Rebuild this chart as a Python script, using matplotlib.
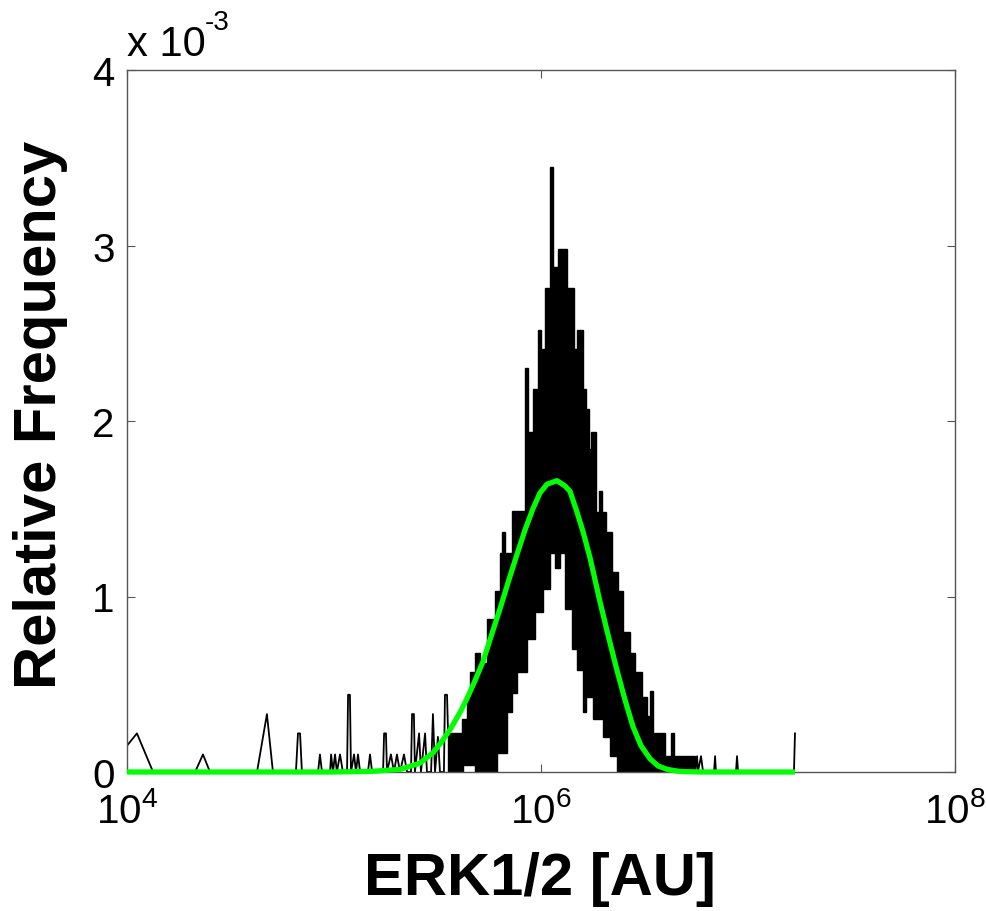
import numpy as np
import matplotlib
matplotlib.use('Agg')
import matplotlib.pyplot as plt
from matplotlib.ticker import FixedLocator, NullLocator

plt.rcParams['font.family'] = ['Liberation Sans', 'DejaVu Sans']
plt.rcParams['mathtext.fontset'] = 'custom'
plt.rcParams['mathtext.rm'] = 'Liberation Sans'

# relative frequency values are in units of 1e-3, x values as log10(ERK1/2)

# sparse spikes of the histogram, low-intensity side
left_x = [4.000, 4.048, 4.126, 4.329, 4.367, 4.401, 4.628, 4.676, 4.705, 4.816,
          4.826, 4.836, 4.845, 4.923, 4.932, 4.942, 4.981, 4.986, 4.995, 5.005,
          5.014, 5.029, 5.043, 5.063, 5.068, 5.077, 5.082, 5.097, 5.106, 5.116,
          5.126, 5.164, 5.174, 5.184, 5.237, 5.242, 5.251, 5.256, 5.275, 5.290,
          5.304, 5.319, 5.338, 5.353, 5.372, 5.377, 5.386, 5.391, 5.411, 5.420,
          5.440, 5.449, 5.469, 5.478, 5.488, 5.502, 5.512, 5.531, 5.536, 5.546,
          5.551]
left_y = [0.15, 0.22, 0.0, 0.0, 0.10, 0.0, 0.0, 0.33, 0.0, 0.0,
          0.22, 0.22, 0.0, 0.0, 0.10, 0.0, 0.0, 0.10, 0.0, 0.10,
          0.0, 0.10, 0.0, 0.0, 0.44, 0.44, 0.0, 0.10, 0.0, 0.10,
          0.0, 0.0, 0.10, 0.0, 0.0, 0.22, 0.22, 0.0, 0.10, 0.0,
          0.10, 0.0, 0.10, 0.0, 0.0, 0.33, 0.33, 0.0, 0.22, 0.0,
          0.22, 0.0, 0.0, 0.33, 0.0, 0.20, 0.0, 0.0, 0.44, 0.44,
          0.22]

# dense part of the histogram: upper and lower envelope (step edges + levels)
upper_edges = [5.551, 5.618, 5.643, 5.657, 5.681, 5.705, 5.739, 5.778, 5.802, 5.812,
               5.826, 5.860, 5.923, 5.937, 5.961, 5.986, 6.000, 6.019, 6.043, 6.058,
               6.082, 6.126, 6.159, 6.174, 6.203, 6.217, 6.232, 6.242, 6.266, 6.280,
               6.295, 6.314, 6.343, 6.372, 6.396, 6.430, 6.454, 6.488, 6.512, 6.527,
               6.541, 6.599, 6.628, 6.643, 6.744]
upper_vals = [0.22, 0.30, 0.43, 0.57, 0.68, 0.62, 0.87, 1.03, 1.25, 1.37,
              1.25, 1.49, 2.30, 1.94, 2.18, 2.52, 2.41, 2.76, 3.45, 2.88,
              2.98, 2.76, 2.41, 2.52, 2.18, 2.07, 1.84, 1.94, 1.48, 1.60,
              1.48, 1.37, 1.14, 1.03, 0.80, 0.68, 0.57, 0.43, 0.32, 0.46,
              0.22, 0.09, 0.22, 0.09]
lower_edges = [5.551, 5.623, 5.681, 5.787, 5.836, 5.860, 5.884, 5.932, 5.971, 6.010,
               6.043, 6.068, 6.092, 6.116, 6.150, 6.174, 6.203, 6.217, 6.251, 6.300,
               6.333, 6.367, 6.744]
lower_vals = [0.0, 0.04, 0.0, 0.11, 0.34, 0.45, 0.57, 0.76, 0.91, 1.04,
              1.25, 1.16, 1.25, 0.93, 0.70, 0.58, 0.34, 0.43, 0.30, 0.20,
              0.09, 0.0]

# sparse spikes, high-intensity side
right_x = [6.744, 6.754, 6.758, 6.773, 6.783, 6.836, 6.841, 6.845, 6.942, 6.947,
           6.952, 7.222, 7.227]
right_y = [0.0, 0.09, 0.0, 0.09, 0.0, 0.0, 0.09, 0.0, 0.0, 0.09,
           0.0, 0.0, 0.22]

# fitted curve (green)
fit_x = [4.000, 4.981, 5.174, 5.319, 5.415, 5.478, 5.512, 5.560, 5.609, 5.643,
         5.681, 5.720, 5.758, 5.802, 5.841, 5.884, 5.923, 5.961, 5.995, 6.029,
         6.077, 6.116, 6.140, 6.174, 6.203, 6.237, 6.285, 6.324, 6.367, 6.406,
         6.444, 6.483, 6.527, 6.565, 6.609, 6.671, 6.768, 7.227]
fit_y = [0.0, 0.0, 0.003, 0.015, 0.05, 0.11, 0.16, 0.24, 0.34, 0.42,
         0.52, 0.63, 0.77, 0.93, 1.08, 1.24, 1.38, 1.50, 1.59, 1.64,
         1.66, 1.63, 1.60, 1.48, 1.37, 1.22, 0.97, 0.78, 0.58, 0.41,
         0.26, 0.15, 0.075, 0.035, 0.015, 0.003, 0.0, 0.0]


def stairs_xy(edges, vals):
    x = np.repeat(np.asarray(edges), 2)[1:-1]
    y = np.repeat(np.asarray(vals), 2)
    return x, y


fig = plt.figure(figsize=(9.87, 9.12), dpi=100)
ax = fig.add_axes([127/987, 1-773/912, 828/987, 702/912])
ax.set_xscale('log')

ux, uy = stairs_xy(upper_edges, upper_vals)
lx, ly = stairs_xy(lower_edges, lower_vals)
px = np.concatenate([ux, lx[::-1]])
py = np.concatenate([uy, ly[::-1]])
ax.fill(10**px, py, color='black', lw=1.0)

ax.plot(10**np.array(left_x), left_y, color='black', lw=1.3)
ax.plot(10**np.array(right_x), right_y, color='black', lw=1.3)
ax.plot(10**np.array(fit_x), fit_y, color='#00ff00', lw=3.8,
        solid_capstyle='butt', solid_joinstyle='round', clip_on=False, zorder=5)

ax.set_xlim(1e4, 1e8)
ax.set_ylim(0, 4)
ax.xaxis.set_major_locator(FixedLocator([1e4, 1e6, 1e8]))
ax.xaxis.set_minor_locator(NullLocator())
ax.set_xticklabels(['$\\mathregular{10^{4}}$', '$\\mathregular{10^{6}}$',
                    '$\\mathregular{10^{8}}$'])
ax.set_yticks([0, 1, 2, 3, 4])
ax.set_yticklabels(['0', '1', '2', '3', '4'])

ax.tick_params(direction='in', length=6, width=0.8, color='#555555',
               top=True, right=True, labelsize=29)
ax.tick_params(axis='x', pad=14)
ax.tick_params(axis='y', pad=9)
for s in ax.spines.values():
    s.set_color('#555555')
    s.set_linewidth(1.0)

# scale factor written like the MATLAB exponent label
ax.text(0.0, 1.022, 'x 10', transform=ax.transAxes,
        fontsize=30, ha='left', va='baseline')
ax.text(0.094, 1.058, '-3', transform=ax.transAxes,
        fontsize=20, ha='left', va='baseline')

fig.text(41/987, 1-415/912, 'Relative Frequency', rotation=90, fontsize=43,
         fontweight='bold', ha='center', va='center')
fig.text(540/987, 1-880/912, 'ERK1/2 [AU]', fontsize=43,
         fontweight='bold', ha='center', va='center')

plt.savefig('out.png', dpi=100)
